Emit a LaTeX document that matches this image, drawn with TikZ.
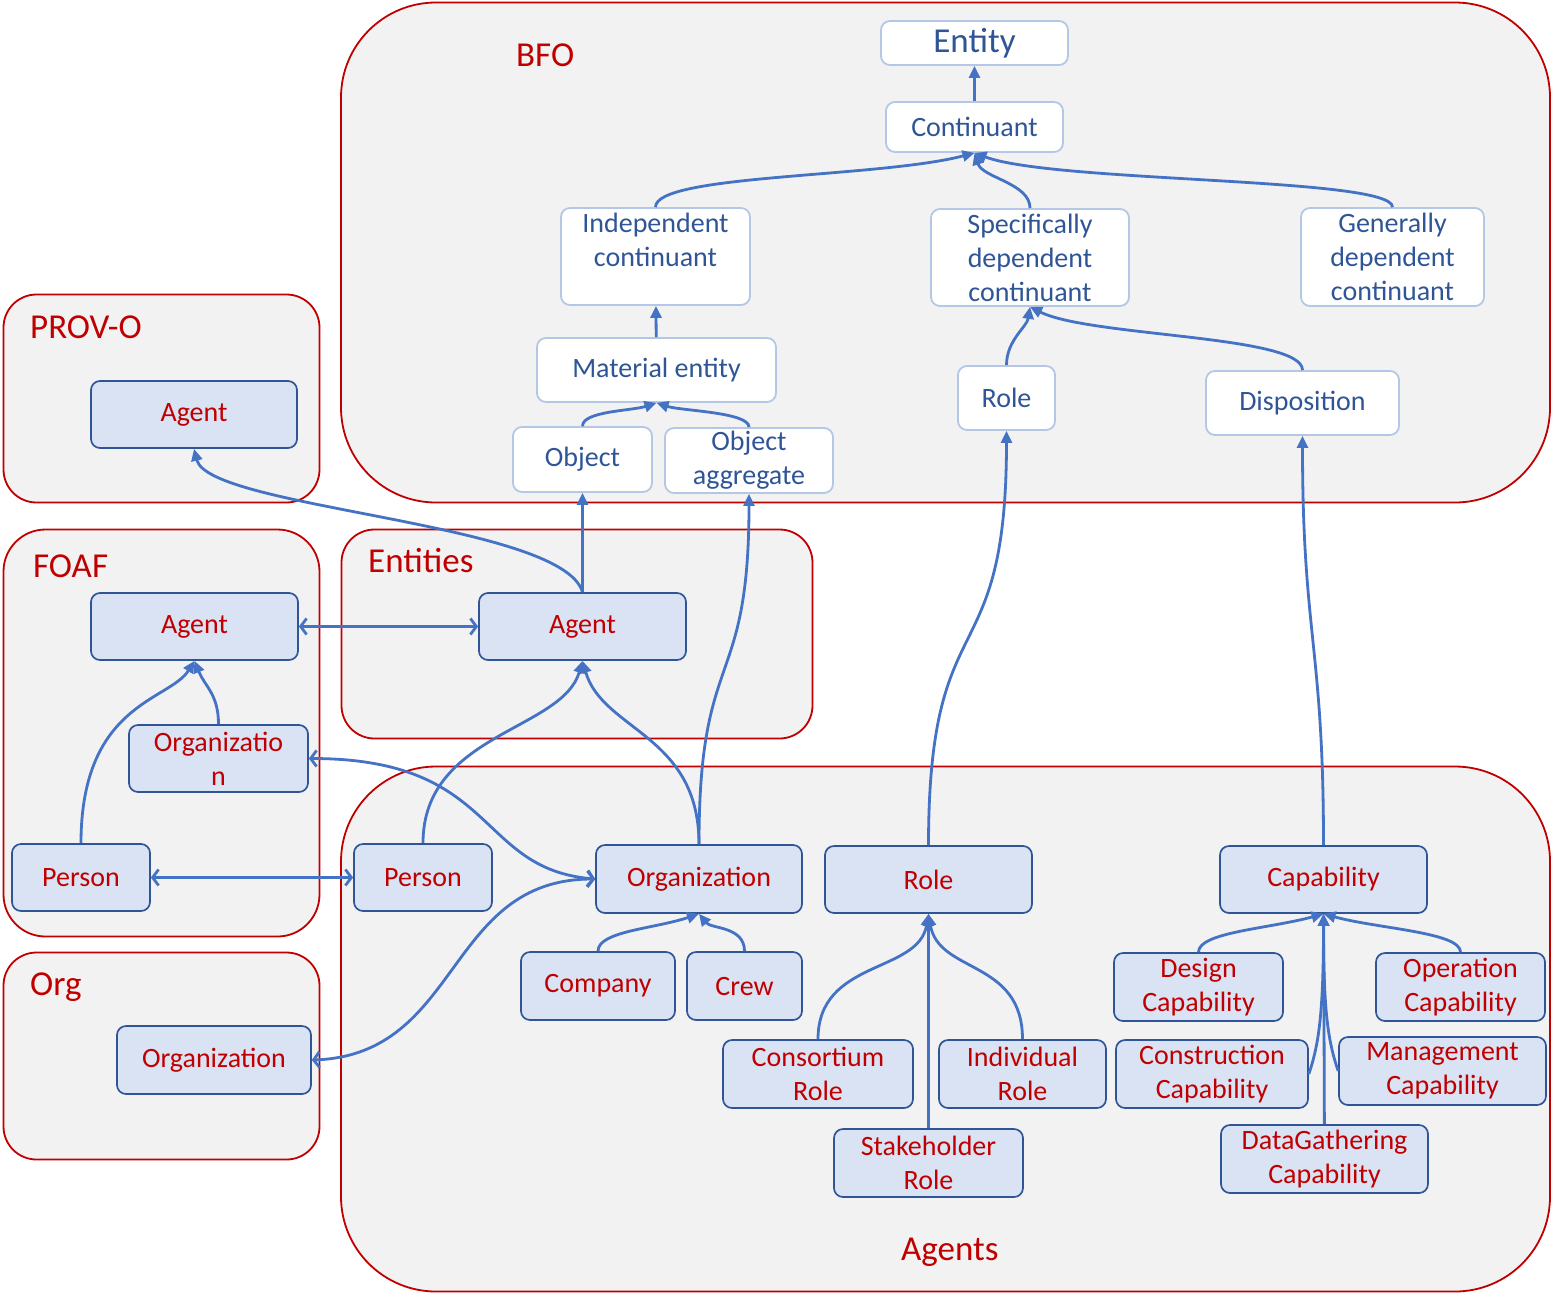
\documentclass[tikz,border=0pt]{standalone}
\usepackage{fontspec}
\setmainfont{Carlito}
\usepackage{xcolor}
\usepackage{tikz}
\usetikzlibrary{arrows.meta}

\definecolor{boxred}{HTML}{C00000}
\definecolor{boxgray}{HTML}{F2F2F2}
\definecolor{conceptfill}{HTML}{DAE3F3}
\definecolor{conceptline}{HTML}{2F5597}
\definecolor{bfoline}{HTML}{B4C7E7}
\definecolor{bfotext}{HTML}{2F5597}
\definecolor{linkblue}{HTML}{4472C4}

\begin{document}
\begin{tikzpicture}[
    x=1pt, y=-1pt,
    package/.style={rectangle, draw=boxred, fill=boxgray, line width=1.8pt, rounded corners=33pt},
    pkglabel/.style={anchor=base west, inner sep=0pt, text=boxred, font=\fontsize{35}{42}\selectfont},
    bfoclass/.style={rectangle, draw=bfoline, fill=white, line width=1.8pt, rounded corners=9pt, text=bfotext, align=center, inner sep=2pt, font=\fontsize{28}{34}\selectfont},
    concept/.style={rectangle, draw=conceptline, fill=conceptfill, line width=1.7pt, rounded corners=9pt, text=boxred, align=center, inner sep=2pt, minimum width=207pt, minimum height=67pt, font=\fontsize{28}{34}\selectfont},
    arrow/.style={line width=2.8pt, draw=linkblue, -{Triangle[length=12pt,width=11pt]}},
    link/.style={line width=2.8pt, draw=linkblue, {Straight Barb[length=6pt,width=16pt]}-{Straight Barb[length=6pt,width=16pt]}}
]
\useasboundingbox (0,0) rectangle (1552,1294);

% Packages
\node [package, rounded corners=95pt, minimum width=1209pt, minimum height=500pt] at (945.5,252.5) (bfobox) {};
\node [package, minimum width=316pt, minimum height=208pt] at (161.5,398.5) (provbox) {};
\node [package, rounded corners=42pt, minimum width=316pt, minimum height=407pt] at (161.5,733) (foafbox) {};
\node [package, minimum width=471pt, minimum height=209pt] at (577,634) (entitiesbox) {};
\node [package, minimum width=316pt, minimum height=207pt] at (161.5,1056) (orgbox) {};
\node [package, rounded corners=95pt, minimum width=1209pt, minimum height=525pt] at (945.5,1029) (agentsbox) {};

% Package labels
\node [pkglabel] at (516,66) (bfolabel) {BFO};
\node [pkglabel] at (30,338) (provlabel) {PROV-O};
\node [pkglabel] at (33,577) (foaflabel) {FOAF};
\node [pkglabel] at (368,572) (entitieslabel) {Entities};
\node [pkglabel] at (30,995) (orglabel) {Org};
\node [pkglabel] at (901,1260) (agentslabel) {Agents};

% BFO classes
\node [bfoclass, font=\fontsize{35}{42}\selectfont, minimum width=187pt, minimum height=44pt] at (974.5,43) (entity) {Entity};
\node [bfoclass, minimum width=177pt, minimum height=50pt] at (974.5,127) (continuant) {Continuant};
\node [bfoclass, minimum width=189pt, minimum height=97pt] at (655.5,256.5) (independent) {Independent\\continuant\\~};
\node [bfoclass, minimum width=198pt, minimum height=97pt] at (1030,257.5) (specific) {Specifically\\dependent\\continuant};
\node [bfoclass, minimum width=183pt, minimum height=98pt] at (1392.5,257) (generic) {Generally\\dependent\\continuant};
\node [bfoclass, minimum width=239pt, minimum height=64pt] at (656.5,370) (material) {Material entity};
\node [bfoclass, minimum width=139pt, minimum height=65pt] at (582.5,459.5) (object) {Object};
\node [bfoclass, minimum width=168pt, minimum height=65pt] at (749,460.5) (aggregate) {Object\\aggregate};
\node [bfoclass, minimum width=97pt, minimum height=64pt] at (1006.5,398) (bforole) {Role};
\node [bfoclass, minimum width=193pt, minimum height=64pt] at (1302.5,403) (disposition) {Disposition};

% PROV-O, FOAF, Entities, Org
\node [concept, minimum width=206pt] at (194,414.5) (provagent) {Agent};
\node [concept] at (194.5,626.5) (foafagent) {Agent};
\node [concept, minimum width=179pt] at (218.5,758.5) (foaforg) {Organizatio\\n};
\node [concept, minimum width=138pt] at (81,877.5) (foafperson) {Person};
\node [concept] at (582.5,626.5) (entagent) {Agent};
\node [concept, minimum width=194pt, minimum height=68pt] at (214,1060) (orgorg) {Organization};

% Agents
\node [concept, minimum width=138pt] at (423,877.5) (person) {Person};
\node [concept, minimum width=206pt, minimum height=68pt] at (699,879) (organization) {Organization};
\node [concept] at (928.5,879.5) (role) {Role};
\node [concept] at (1323.5,879.5) (capability) {Capability};
\node [concept, minimum width=154pt, minimum height=68pt] at (598,986) (company) {Company};
\node [concept, minimum width=115pt, minimum height=68pt] at (744.5,986) (crew) {Crew};
\node [concept, minimum width=190pt, minimum height=68pt] at (818,1074) (consortium) {Consortium\\Role};
\node [concept, minimum width=167pt, minimum height=68pt] at (1022.5,1074) (individual) {Individual\\Role};
\node [concept, minimum width=189pt, minimum height=68pt] at (928.5,1163) (stakeholder) {Stakeholder\\Role};
\node [concept, minimum width=169pt, minimum height=68pt] at (1198.5,987) (design) {Design\\Capability};
\node [concept, minimum width=169pt, minimum height=68pt] at (1460.5,987) (operation) {Operation\\Capability};
\node [concept, minimum width=192pt, minimum height=68pt] at (1212,1074) (construction) {Construction\\Capability};
\node [concept, minimum height=68pt] at (1442.5,1071) (management) {Management\\Capability};
\node [concept, minimum height=68pt] at (1324.5,1159) (datagathering) {DataGathering\\Capability};

% BFO hierarchy
\draw [arrow] (continuant) -- (entity);
\draw [arrow] (independent.north) .. controls +(0,-33) and +(-95,25) .. (continuant.south);
\draw [arrow] (specific.north) .. controls +(0,-25) and +(8,25) .. (continuant.south);
\draw [arrow] (generic.north) .. controls +(0,-30) and +(80,30) .. (continuant.south);
\draw [arrow] (material) -- (independent);
\draw [arrow] (object.north) .. controls +(0,-15) and +(-25,8) .. (material.south);
\draw [arrow] (aggregate.north) .. controls +(0,-15) and +(25,8) .. (material.south);
\draw [arrow] (bforole.north) .. controls +(0,-25) and +(-3,20) .. (specific.south);
\draw [arrow] (disposition.north) .. controls +(0,-35) and +(60,30) .. (specific.south);

% Links between packages
\draw [arrow] (entagent) -- (object);
\draw [arrow] (entagent.north) .. controls +(-20,-70) and +(15,60) .. (provagent.south);
\draw [arrow] (organization.north) .. controls +(0,-200) and +(0,200) .. (aggregate.south);
\draw [arrow] (role.north) .. controls +(0,-250) and +(0,250) .. (bforole.south);
\draw [arrow] (capability.north) .. controls +(0,-200) and +(0,200) .. (disposition.south);
\draw [link] (foafagent) -- (entagent);
\draw [link] (foafperson) -- (person);
\draw [link] (foaforg.east) .. controls +(190,0) and +(-120,-10) .. (organization.west);
\draw [link] (orgorg.east) .. controls +(150,-5) and +(-150,0) .. (organization.west);

% FOAF hierarchy
\draw [arrow] (foafperson.north) .. controls +(0,-140) and +(-25,40) .. (foafagent.south);
\draw [arrow] (foaforg.north) .. controls +(0,-30) and +(10,25) .. (foafagent.south);

% Agents hierarchy
\draw [arrow] (person.north) .. controls +(0,-110) and +(-20,70) .. (entagent.south);
\draw [arrow] (organization.north) .. controls +(0,-110) and +(20,70) .. (entagent.south);
\draw [arrow] (company.north) .. controls +(0,-20) and +(-45,15) .. (organization.south);
\draw [arrow] (crew.north) .. controls +(0,-25) and +(12,15) .. (organization.south);
\draw [arrow] (consortium.north) .. controls +(0,-80) and +(-10,60) .. (role.south);
\draw [arrow] (individual.north) .. controls +(0,-80) and +(10,60) .. (role.south);
\draw [arrow] (stakeholder) -- (role);
\draw [arrow] (design.north) .. controls +(0,-20) and +(-55,15) .. (capability.south);
\draw [arrow] (operation.north) .. controls +(0,-20) and +(55,15) .. (capability.south);
\draw [arrow] (construction.east) .. controls +(10,-30) and +(0,100) .. (capability.south);
\draw [arrow] (management.west) .. controls +(-10,-30) and +(0,100) .. (capability.south);
\draw [arrow] (datagathering) -- (capability);

\end{tikzpicture}
\end{document}
